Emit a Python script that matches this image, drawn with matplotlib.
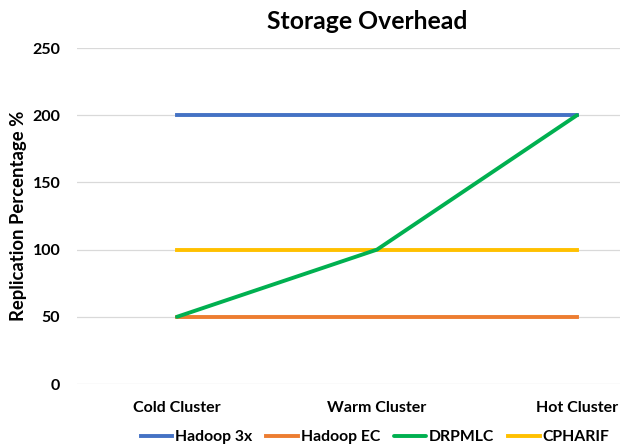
import matplotlib.pyplot as plt

# storage overhead per cluster type
clusters = ["Cold Cluster", "Warm Cluster", "Hot Cluster"]
hadoop_3x = [200, 200, 200]
hadoop_ec = [50, 50, 50]
drpmlc = [50, 100, 200]
cpharif = [100, 100, 100]

plt.rcParams['font.family'] = ['Lato', 'DejaVu Sans']
plt.rcParams['font.weight'] = 'bold'

fig = plt.figure(figsize=(6.2, 4.46), dpi=100)
ax = fig.add_axes([77 / 620, 62 / 446, 543 / 620, 336 / 446])

x = range(len(clusters))
l1, = ax.plot(x, hadoop_3x, color="#4472C4", lw=2.8, label="Hadoop 3x", zorder=3)
l2, = ax.plot(x, hadoop_ec, color="#ED7D31", lw=2.8, label="Hadoop EC", zorder=3)
l4, = ax.plot(x, cpharif, color="#FFC000", lw=2.8, label="CPHARIF", zorder=3)
l3, = ax.plot(x, drpmlc, color="#00B050", lw=2.8, label="DRPMLC", zorder=4,
              solid_capstyle='round')

ax.set_xlim(-0.5, 2.215)
ax.set_ylim(0, 250)
ax.set_yticks(range(0, 251, 50))
ax.set_xticks(list(x))
ax.set_xticklabels(clusters, fontsize=11.5, fontweight='bold')
for lab in ax.get_yticklabels():
    lab.set_fontsize(11.5)
    lab.set_fontweight('bold')
ax.tick_params(axis='y', length=0, pad=12)
ax.tick_params(axis='x', length=0, pad=12)
ax.grid(axis='y', color="#D9D9D9", lw=0.9)
ax.set_axisbelow(True)
for s in ax.spines.values():
    s.set_visible(False)

ax.set_ylabel("Replication Percentage %", fontsize=13.3, fontweight='bold')
ax.yaxis.set_label_coords((27 - 77) / 543, 0.5)
fig.text(0.593, 0.951, "Storage Overhead", ha='center', va='center', fontsize=17.8, fontweight='bold')

fig.legend(handles=[l1, l2, l3, l4], loc='center', bbox_to_anchor=(0.605, 0.02), ncol=4,
           frameon=False, handlelength=2.0, handletextpad=0.2, columnspacing=0.9,
           prop={'weight': 'bold', 'size': 11.3})

fig.savefig("out.png", dpi=100)
